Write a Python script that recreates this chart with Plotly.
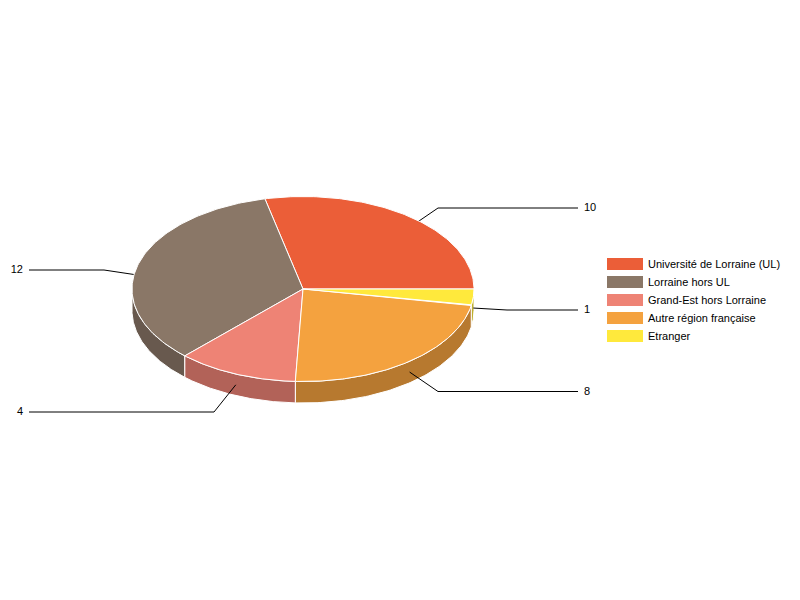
import numpy as np
import plotly.graph_objects as go

categories = ["Université de Lorraine (UL)", "Lorraine hors UL", "Grand-Est hors Lorraine",
              "Autre région française", "Etranger"]
values = [10, 12, 4, 8, 1]
top_colors = ["#EB5E38", "#8A7767", "#EE8375", "#F4A23F", "#FFE93C"]
side_colors = ["#B0472A", "#68594E", "#B26258", "#B7792F", "#BFAF2D"]

# leader layout: elbow x, level y, end x, label x, label position (per slice)
elbow_x = [438, 104, 214, 438, 507]
level_y = [208, 270, 412, 391.5, 310]
end_x = [578, 29, 29, 578, 578]
label_x = [584, 23, 23, 584, 584]
label_pos = ["middle right", "middle left", "middle left", "middle right", "middle right"]
LABEL_DY = 0.7

CX, CY, RX, RY, DEPTH = 303, 289, 171, 92.5, 21.5
LEG_X, LEG_Y0, LEG_STEP = 603, 264, 18
SWATCH_X0, SWATCH_X1, SWATCH_H = 607, 643, 12

total = sum(values)
edges = np.concatenate([[0], np.cumsum(values)]) / total * 2 * np.pi


def ex(a):
    return CX + RX * np.cos(a)


def ey(a):
    return CY - RY * np.sin(a)


fig = go.Figure()

# side walls (front half only, back-to-front from the sides towards the bottom)
order = sorted(range(len(values)), key=lambda i: -abs(np.pi * 1.5 - (edges[i] + edges[i + 1]) / 2))
for i in order:
    a0, a1 = max(edges[i], np.pi), edges[i + 1]
    if a1 <= np.pi:
        continue
    t = np.linspace(a0, a1, 80)
    xs = np.concatenate([ex(t), ex(t[::-1])])
    ys = np.concatenate([ey(t), ey(t[::-1]) + DEPTH])
    xs = np.append(xs, xs[0])
    ys = np.append(ys, ys[0])
    fig.add_trace(go.Scatter(x=xs, y=ys, mode="lines", fill="toself", fillcolor=side_colors[i],
                             line=dict(color="#FFFFFF", width=1), hoverinfo="skip", showlegend=False))

# leader lines (between walls and top faces)
for i in range(len(values)):
    mid = (edges[i] + edges[i + 1]) / 2
    fig.add_trace(go.Scatter(x=[ex(mid), elbow_x[i], end_x[i]],
                             y=[ey(mid) + DEPTH / 2, level_y[i], level_y[i]],
                             mode="lines", line=dict(color="#000000", width=1),
                             hoverinfo="skip", showlegend=False))

# top faces
for i in range(len(values)):
    t = np.linspace(edges[i], edges[i + 1], 120)
    xs = np.concatenate([[CX], ex(t), [CX]])
    ys = np.concatenate([[CY], ey(t), [CY]])
    fig.add_trace(go.Scatter(x=xs, y=ys, mode="lines", fill="toself", fillcolor=top_colors[i],
                             line=dict(color="#FFFFFF", width=1), name=categories[i],
                             text=f"{categories[i]}: {values[i]}", hoverinfo="text", showlegend=False))

# value labels
fig.add_trace(go.Scatter(x=label_x, y=[v + LABEL_DY for v in level_y], mode="text",
                         text=[str(v) for v in values], textposition=label_pos,
                         textfont=dict(family="Liberation Sans", size=11, color="#000000"),
                         hoverinfo="skip", showlegend=False))

# legend: one legend per entry for exact row spacing
legends = {}
shapes = []
for i, name in enumerate(categories):
    key = "legend" if i == 0 else f"legend{i + 1}"
    row_y = LEG_Y0 + i * LEG_STEP
    fig.add_trace(go.Scatter(x=[None], y=[None], mode="lines", name=name,
                             line=dict(color=top_colors[i], width=12),
                             legend=key, showlegend=True))
    legends[key] = dict(x=LEG_X / 800, y=1 - row_y / 600, xanchor="left", yanchor="middle",
                        itemwidth=35, bgcolor="rgba(0,0,0,0)", borderwidth=0,
                        font=dict(family="Liberation Sans", size=11, color="#000000"))
    # plotly caps legend line thickness; this backing rectangle brings the swatch to full height
    shapes.append(dict(type="rect", xref="x", yref="y", x0=SWATCH_X0, x1=SWATCH_X1,
                       y0=row_y - SWATCH_H / 2, y1=row_y + SWATCH_H / 2,
                       fillcolor=top_colors[i], line=dict(width=0), layer="below"))

fig.update_layout(width=800, height=600, autosize=False, margin=dict(l=0, r=0, t=0, b=0),
                  paper_bgcolor="#FFFFFF", plot_bgcolor="#FFFFFF", shapes=shapes,
                  xaxis=dict(range=[0, 800], visible=False, fixedrange=True),
                  yaxis=dict(range=[600, 0], visible=False, fixedrange=True),
                  **legends)

fig.write_html("out.html", config=dict(displayModeBar=False),
               post_script="document.body.style.margin='0';")
